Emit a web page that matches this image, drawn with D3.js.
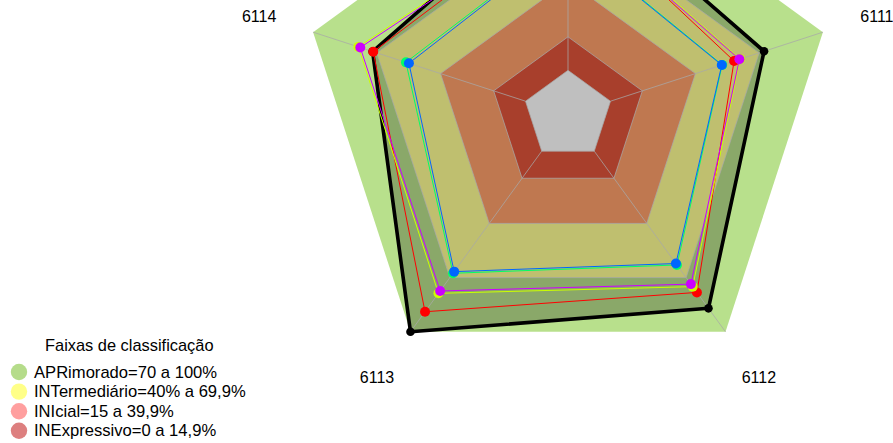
<!DOCTYPE html>
<html>
<head>
<meta charset="utf-8">
<script src="https://cdn.jsdelivr.net/npm/d3@7"></script>
<style>
  html, body { margin: 0; padding: 0; background: #ffffff; }
  svg { display: block; font-family: "Liberation Sans", Arial, sans-serif; }
</style>
</head>
<body>
<svg id="chart" width="893" height="443"></svg>
<script>
// ---- data ----
const axes = ["6115", "6114", "6113", "6112", "6111"];
const seriesNames = ["ref", "s1", "s2", "s3", "s4", "s5"];
const seriesColors = ["#000000", "#FF0000", "#CCFF00", "#00FF66", "#0066FF", "#CC00FF"];
const refValues = [85, 72, 100, 87, 72.3];
const s1Values = [74, 71.7, 88.9, 78.2, 58.2];
const s2Values = [73, 78.7, 78.7, 75, 61];
const s3Values = [59, 56.3, 67.6, 63, 52.6];
const s4Values = [58.5, 54.9, 66.7, 62.2, 52.4];
const s5Values = [72, 77.8, 77.4, 73.6, 60.7];
const bandLevels = [100, 70, 40, 15, 0];
const bandColors = ["#b8e08c", "#ffff95", "#ffa06b", "#e0553b", "#ffffff"];
const legendTitle = "Faixas de classificação";
const legendLabels = ["APRimorado=70 a 100%", "INTermediário=40% a 69,9%", "INIcial=15 a 39,9%", "INExpressivo=0 a 14,9%"];
const legendColors = ["#b5dc8a", "#ffff88", "#ff9f9f", "#dd7f7f"];

// ---- layout ----
const W = 893, H = 443;
const svg = d3.select("#chart");
const cx = 568, cy = 115, R = 268;
const r = d3.scaleLinear().domain([0, 100]).range([R / 6, R]);
const n = axes.length;
const ang = i => -i * 2 * Math.PI / n;
const radial = d3.lineRadial().angle((d, i) => ang(i)).radius(d => r(d)).curve(d3.curveLinearClosed);
const pt = (i, v) => [cx + r(v) * Math.sin(ang(i)), cy - r(v) * Math.cos(ang(i))];

const g = svg.append("g").attr("transform", `translate(${cx},${cy})`);

// bands
bandLevels.forEach((lv, k) => {
  g.append("path").attr("d", radial(axes.map(() => lv)))
    .attr("fill", bandColors[k]).attr("stroke", "none");
});

// reference series fill (dark overlay)
const allSeries = [refValues, s1Values, s2Values, s3Values, s4Values, s5Values];
g.append("path").attr("d", radial(refValues)).attr("fill", "rgba(0,0,0,0.25)").attr("stroke", "none");

// grid rings & spokes
[0, 15, 40, 70].forEach(lv => {
  g.append("path").attr("d", radial(axes.map(() => lv)))
    .attr("fill", "none").attr("stroke", "#a8a8a8").attr("stroke-opacity", 0.75).attr("stroke-width", 1);
});
axes.forEach((a, i) => {
  g.append("line")
    .attr("x1", r(0) * Math.sin(ang(i))).attr("y1", -r(0) * Math.cos(ang(i)))
    .attr("x2", r(100) * Math.sin(ang(i))).attr("y2", -r(100) * Math.cos(ang(i)))
    .attr("stroke", "#a8a8a8").attr("stroke-opacity", 0.75).attr("stroke-width", 1);
});

// series lines & points
allSeries.forEach((vals, s) => {
  const isRef = s === 0;
  g.append("path").attr("d", radial(vals))
    .attr("fill", "none").attr("stroke", seriesColors[s])
    .attr("stroke-width", isRef ? 3.6 : 1).attr("stroke-linejoin", "round");
});
allSeries.forEach((vals, s) => {
  const isRef = s === 0;
  vals.forEach((v, i) => {
    const p = pt(i, v);
    svg.append("circle").attr("cx", p[0]).attr("cy", p[1])
      .attr("r", isRef ? 4.3 : 5).attr("fill", seriesColors[s]);
  });
});

// axis labels (only those that fall inside the visible frame, as in the cropped reference)
const L = R * 1.212;
axes.forEach((a, i) => {
  const x = cx + L * Math.sin(ang(i));
  let y = cy - L * Math.cos(ang(i));
  if (y < cy) y += 2;
  if (y < 0 || y > H) return;
  svg.append("text")
    .attr("x", x).attr("y", y)
    .attr("text-anchor", "middle").attr("dominant-baseline", "central")
    .attr("font-size", 16).attr("fill", "#000").text(a);
});

// legend
svg.append("text").attr("x", 45).attr("y", 345).attr("dominant-baseline", "central")
  .attr("font-size", 16.4).attr("fill", "#000").text(legendTitle);
const rowY = d3.scaleLinear().domain([0, 3]).range([372, 430.8]);
legendLabels.forEach((lab, k) => {
  svg.append("circle").attr("cx", 19).attr("cy", rowY(k)).attr("r", 8.2).attr("fill", legendColors[k]);
  svg.append("text").attr("x", 34).attr("y", rowY(k)).attr("dominant-baseline", "central")
    .attr("font-size", 16.6).attr("fill", "#000").text(lab);
});
</script>
</body>
</html>
